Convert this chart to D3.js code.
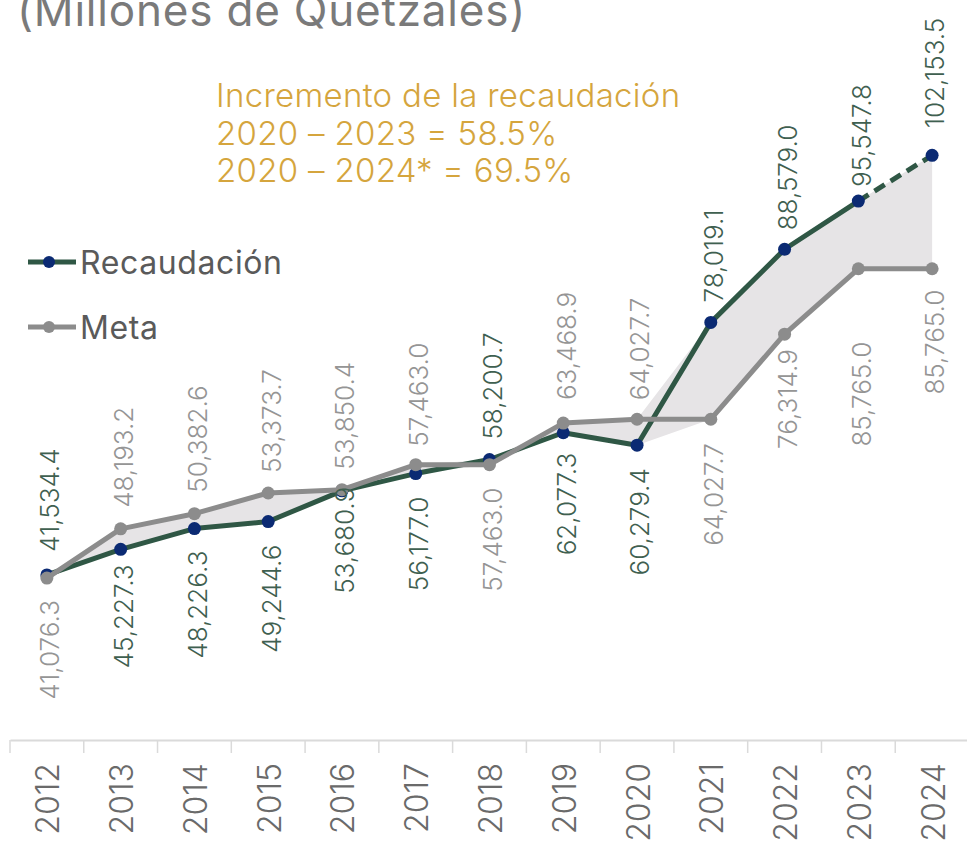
<!DOCTYPE html>
<html>
<head>
<meta charset="utf-8">
<script src="https://cdn.jsdelivr.net/npm/d3@7"></script>
<style>
  html, body { margin: 0; padding: 0; background: #ffffff; }
  svg { display: block; font-family: Inter, "Open Sans", Lato, sans-serif; }
</style>
</head>
<body>
<svg id="chart" width="967" height="849"></svg>
<script>
// ---- data ----
const years = ["2012","2013","2014","2015","2016","2017","2018","2019","2020","2021","2022","2023","2024"];
const recaudacion = [41534.4, 45227.3, 48226.3, 49244.6, 53680.9, 56177.0, 58200.7, 62077.3, 60279.4, 78019.1, 88579.0, 95547.8, 102153.5];
const meta = [41076.3, 48193.2, 50382.6, 53373.7, 53850.4, 57463.0, 57463.0, 63468.9, 64027.7, 64027.7, 76314.9, 85765.0, 85765.0];
const seriesNames = ["Recaudación", "Meta"];
const titleText = "(Millones de Quetzales)";
const noteLines = ["Incremento de la recaudación", "2020 – 2023 = 58.5%", "2020 – 2024* = 69.5%"];

// label placement (layout config)
const recSide = ["up","down","down","down","down","down","up","down","down","up","up","up","up"];
const metaSide = ["down","up","up","up","up","up","down","up","up","down","down","down","down"];
const recGap = [23, 15, 22, 23, -4, 23, 20, 20, 23, 20, 19, 14, 27];
const metaGap = [22, 21, 21, 20, 20, 18, 23, 23, 19, 24, 15, 73, 21];

const C = {
  recLine: "#2f5745", recDot: "#0b2a73", recText: "#3f6050",
  metaLine: "#8c8c8c", metaDot: "#8c8c8c", metaText: "#959595",
  area: "#e6e4e6", axis: "#dadada", year: "#6a6a6a",
  title: "#7a7a7a", note: "#d5a53d", legend: "#5a5a5a"
};

const svg = d3.select("#chart");
const x = d3.scaleBand().domain(years).range([10, 969]).padding(0);
const cx = d => x(d) + x.bandwidth() / 2;
const y = d3.scaleLinear().domain([20000, 110000]).range([724, 101]);

const rows = years.map((yr, i) => ({ yr, i, r: recaudacion[i], m: meta[i] }));

// title
svg.append("text").attr("x", 17).attr("y", 26)
  .attr("font-size", 44).attr("fill", C.title).attr("letter-spacing", 0.8)
  .text(titleText);

// annotation
noteLines.forEach((t, i) => {
  svg.append("text").attr("x", 216).attr("y", 107 + i * 37.5)
    .attr("font-size", 33).attr("fill", C.note).attr("font-weight", 300)
    .attr("letter-spacing", 0.3)
    .text(t);
});

// shaded area between series
const area = d3.area()
  .x(d => cx(d.yr))
  .y0(d => y(Math.min(d.r, d.m)))
  .y1(d => y(Math.max(d.r, d.m)));
svg.append("path").datum(rows).attr("d", area).attr("fill", C.area);

// axis
const axisG = svg.append("g").attr("transform", "translate(0,740)")
  .call(d3.axisBottom(x).tickSize(0).tickSizeOuter(0).tickFormat(""));
axisG.select(".domain").attr("stroke", C.axis).attr("stroke-width", 2);
axisG.selectAll(".tick").remove();
svg.append("g").selectAll("line").data(years).join("line")
  .attr("x1", d => x(d)).attr("x2", d => x(d))
  .attr("y1", 740).attr("y2", 753)
  .attr("stroke", C.axis).attr("stroke-width", 1.5);
svg.append("g").selectAll("text").data(years).join("text")
  .attr("transform", d => `translate(${cx(d) + 1},763) rotate(-90)`)
  .attr("text-anchor", "end").attr("dy", "0.36em")
  .attr("font-size", 32).attr("fill", C.year).attr("font-weight", 300)
  .text(d => d);

// recaudacion line (solid up to 2023, dashed 2023-2024)
const line = d3.line().x(d => cx(d.yr)).y(d => y(d.v));
const recPts = rows.map(d => ({ yr: d.yr, v: d.r }));
svg.append("path").datum(recPts.slice(0, recPts.length - 1)).attr("d", line)
  .attr("fill", "none").attr("stroke", C.recLine).attr("stroke-width", 5)
  .attr("stroke-linejoin", "round");
svg.append("path").datum(recPts.slice(recPts.length - 2)).attr("d", line)
  .attr("fill", "none").attr("stroke", C.recLine).attr("stroke-width", 5)
  .attr("stroke-dasharray", "12,7");
svg.append("g").selectAll("circle").data(recPts).join("circle")
  .attr("cx", d => cx(d.yr)).attr("cy", d => y(d.v)).attr("r", 6.5)
  .attr("fill", C.recDot);

// meta line
const metaPts = rows.map(d => ({ yr: d.yr, v: d.m }));
svg.append("path").datum(metaPts).attr("d", line)
  .attr("fill", "none").attr("stroke", C.metaLine).attr("stroke-width", 5)
  .attr("stroke-linejoin", "round");
svg.append("g").selectAll("circle").data(metaPts).join("circle")
  .attr("cx", d => cx(d.yr)).attr("cy", d => y(d.v)).attr("r", 6.5)
  .attr("fill", C.metaDot);

// value labels
const fmt = d3.format(",.1f");
function labels(vals, sides, gaps, color) {
  svg.append("g").selectAll("text").data(vals).join("text")
    .attr("transform", (v, i) => {
      const py = y(v) + (sides[i] === "up" ? -gaps[i] : gaps[i]);
      return `translate(${cx(years[i]) + 3},${py}) rotate(-90)`;
    })
    .attr("text-anchor", (v, i) => sides[i] === "up" ? "start" : "end")
    .attr("dy", "0.36em")
    .attr("font-size", 26).attr("font-weight", 300).attr("fill", color)
    .text(v => fmt(v));
}
labels(recaudacion, recSide, recGap, C.recText);
labels(meta, metaSide, metaGap, C.metaText);

// legend
const legend = [
  { name: seriesNames[0], line: C.recLine, dot: C.recDot, y: 262 },
  { name: seriesNames[1], line: C.metaLine, dot: C.metaDot, y: 327 }
];
const lg = svg.append("g").selectAll("g").data(legend).join("g");
lg.append("line").attr("x1", 28).attr("x2", 76).attr("y1", d => d.y).attr("y2", d => d.y)
  .attr("stroke", d => d.line).attr("stroke-width", 5);
lg.append("circle").attr("cx", 49).attr("cy", d => d.y).attr("r", 6).attr("fill", d => d.dot);
lg.append("text").attr("x", 80).attr("y", d => d.y).attr("dy", "0.36em")
  .attr("font-size", 32).attr("fill", C.legend).attr("letter-spacing", 0.6)
  .text(d => d.name);
</script>
</body>
</html>
